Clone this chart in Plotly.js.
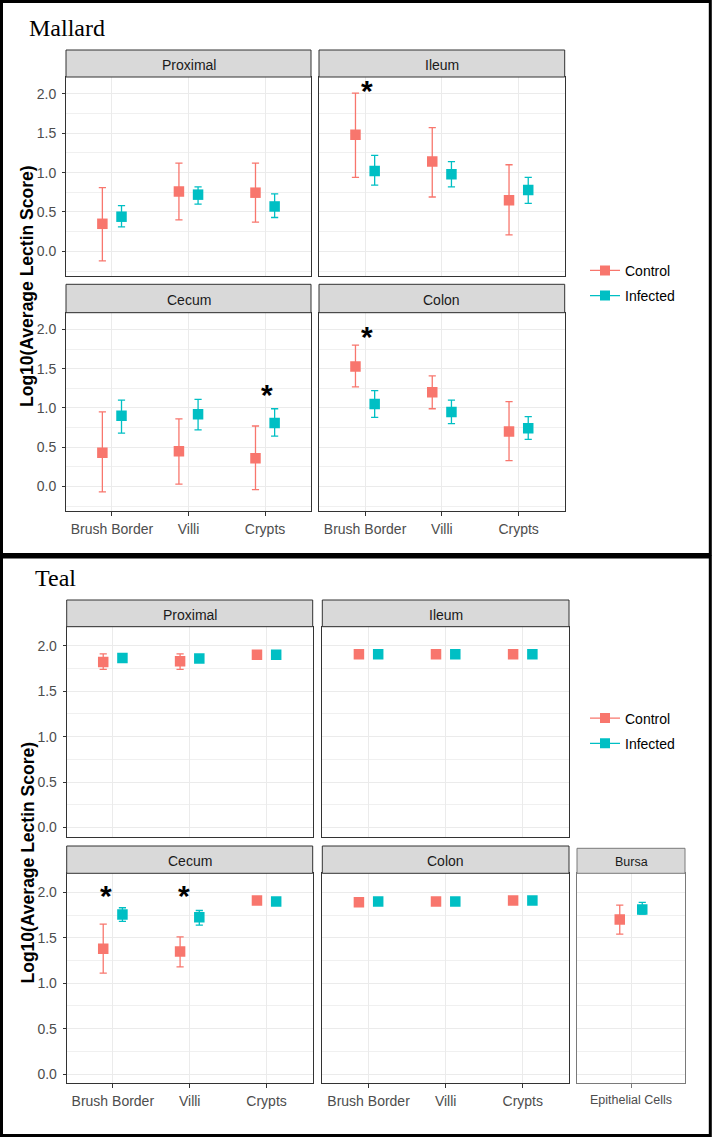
<!DOCTYPE html>
<html>
<head>
<meta charset="utf-8">
<script src="https://cdn.plot.ly/plotly-3.0.1.min.js"></script>
<style>
  html, body { margin: 0; padding: 0; background: #fff; }
  #chart { width: 712px; height: 1137px; }
</style>
</head>
<body>
<div id="chart"></div>
<script>
// Categories
const tissues = ["Brush Border", "Villi", "Crypts"];
const bursaTissues = ["Epithelial Cells"];
const groups = ["Control", "Infected"];
const mallardFacets = ["Proximal", "Ileum", "Cecum", "Colon"];
const tealFacets = ["Proximal", "Ileum", "Cecum", "Colon", "Bursa"];

// Mallard (one row per facet: Brush Border, Villi, Crypts)
const mallardCtrlMean = [[0.35, 0.76, 0.745], [1.48, 1.14, 0.65], [0.43, 0.45, 0.36], [1.53, 1.20, 0.70]];
const mallardCtrlLo   = [[-0.12, 0.40, 0.37], [0.94, 0.69, 0.21], [-0.07, 0.03, -0.04], [1.27, 0.99, 0.33]];
const mallardCtrlHi   = [[0.81, 1.12, 1.12], [2.01, 1.57, 1.10], [0.95, 0.86, 0.77], [1.80, 1.41, 1.08]];
const mallardInfMean  = [[0.44, 0.72, 0.57], [1.02, 0.98, 0.78], [0.90, 0.92, 0.81], [1.05, 0.95, 0.74]];
const mallardInfLo    = [[0.31, 0.60, 0.43], [0.84, 0.82, 0.61], [0.68, 0.72, 0.64], [0.88, 0.80, 0.60]];
const mallardInfHi    = [[0.58, 0.82, 0.73], [1.22, 1.14, 0.94], [1.10, 1.11, 0.99], [1.22, 1.10, 0.89]];

// Teal (last row = Bursa, one category)
const tealCtrlMean = [[1.82, 1.83, 1.90], [1.905, 1.905, 1.905], [1.38, 1.35, 1.91], [1.89, 1.90, 1.91], [1.70]];
const tealCtrlLo   = [[1.74, 1.74, 1.89], [1.90, 1.90, 1.90], [1.11, 1.18, 1.90], [1.88, 1.89, 1.90], [1.54]];
const tealCtrlHi   = [[1.91, 1.91, 1.91], [1.91, 1.91, 1.91], [1.65, 1.51, 1.92], [1.90, 1.91, 1.92], [1.86]];
const tealInfMean  = [[1.865, 1.86, 1.90], [1.905, 1.905, 1.905], [1.755, 1.725, 1.90], [1.90, 1.90, 1.91], [1.81]];
const tealInfLo    = [[1.85, 1.85, 1.89], [1.90, 1.90, 1.90], [1.68, 1.64, 1.89], [1.89, 1.89, 1.90], [1.76]];
const tealInfHi    = [[1.88, 1.87, 1.91], [1.91, 1.91, 1.91], [1.83, 1.80, 1.91], [1.91, 1.91, 1.92], [1.89]];

// significance stars: panel number, x position, y value
const sigPanel = [1, 2, 3, 6, 6];
const sigX = [1.02, 3.03, 1.02, 0.91, 1.93];
const sigY = [2.08, 1.21, 1.95, 2.0, 2.0];

const colors = ["#F8766D", "#00BFC4"];
const dodge = [-0.125, 0.125];
const FONT = "Liberation Sans, Arial, sans-serif";

// pixel -> paper
const W = 712, H = 1137;
const fx = (p) => p / W;
const fy = (p) => 1 - p / H;

// panel layout (pixels)
const panels = [
  { title: mallardFacets[0], x0: 66, x1: 311, st: 50, pt: 77, pb: 276, left: true, bottom: false, yr: [-0.313, 2.214] },
  { title: mallardFacets[1], x0: 319, x1: 564.7, st: 50, pt: 77, pb: 276, left: false, bottom: false, yr: [-0.313, 2.214] },
  { title: mallardFacets[2], x0: 66, x1: 311, st: 284.3, pt: 312.7, pb: 511, left: true, bottom: true, yr: [-0.313, 2.214] },
  { title: mallardFacets[3], x0: 319, x1: 564.7, st: 284.3, pt: 312.7, pb: 511, left: false, bottom: true, yr: [-0.313, 2.214] },
  { title: tealFacets[0], x0: 66.7, x1: 312.7, st: 600, pt: 626.7, pb: 836.7, left: true, bottom: false, yr: [-0.101, 2.209] },
  { title: tealFacets[1], x0: 322.3, x1: 569, st: 600, pt: 626.7, pb: 836.7, left: false, bottom: false, yr: [-0.101, 2.209] },
  { title: tealFacets[2], x0: 66.7, x1: 312.7, st: 846, pt: 873.3, pb: 1083.3, left: true, bottom: true, yr: [-0.101, 2.209] },
  { title: tealFacets[3], x0: 322.3, x1: 569, st: 846, pt: 873.3, pb: 1083.3, left: false, bottom: true, yr: [-0.101, 2.209] },
  { title: tealFacets[4], x0: 577, x1: 685, st: 848.3, pt: 873.3, pb: 1083.3, left: false, bottom: true, yr: [-0.101, 2.209], bursa: true },
];

// which data feeds each panel
const series = [];
mallardFacets.forEach((f, k) => series.push([
  [mallardCtrlMean[k], mallardCtrlLo[k], mallardCtrlHi[k]],
  [mallardInfMean[k], mallardInfLo[k], mallardInfHi[k]],
]));
tealFacets.forEach((f, k) => series.push([
  [tealCtrlMean[k], tealCtrlLo[k], tealCtrlHi[k]],
  [tealInfMean[k], tealInfLo[k], tealInfHi[k]],
]));

const data = [];
const layout = {
  width: W,
  height: H,
  margin: { l: 0, r: 0, t: 0, b: 0 },
  paper_bgcolor: "#fff",
  plot_bgcolor: "#fff",
  font: { family: FONT },
  shapes: [],
  annotations: [],
};

panels.forEach((p, i) => {
  const n = i + 1;
  const cats = p.bursa ? bursaTissues : tissues;
  const border = p.bursa ? "#7a7a7a" : "#333333";

  series[i].forEach((s, g) => {
    const [mean, lo, hi] = s;
    data.push({
      type: "scatter",
      mode: "markers",
      x: mean.map((_, j) => j + 1 + dodge[g]),
      y: mean,
      xaxis: "x" + n,
      yaxis: "y" + n,
      name: groups[g],
      showlegend: false,
      marker: { symbol: "square", size: 10.5, color: colors[g] },
      error_y: {
        type: "data",
        symmetric: false,
        array: hi.map((v, j) => v - mean[j]),
        arrayminus: lo.map((v, j) => mean[j] - v),
        color: colors[g],
        thickness: 1.3,
        width: 3.6,
      },
      hoverinfo: "skip",
    });
  });

  layout["xaxis" + n] = {
    domain: [fx(p.x0), fx(p.x1)],
    anchor: "y" + n,
    range: [0.4, cats.length + 0.6],
    tickvals: cats.map((_, j) => j + 1),
    ticktext: cats,
    showticklabels: p.bottom,
    ticks: p.bottom ? "outside" : "",
    ticklen: 4,
    tickcolor: border,
    ticklabelstandoff: 1,
    tickfont: { family: FONT, size: p.bursa ? 12.5 : 14, color: "#4D4D4D" },
    showgrid: true,
    gridcolor: "#EBEBEB",
    gridwidth: 1,
    zeroline: false,
    showline: true,
    linecolor: border,
    linewidth: 1,
    mirror: true,
    fixedrange: true,
  };
  layout["yaxis" + n] = {
    domain: [fy(p.pb), fy(p.pt)],
    anchor: "x" + n,
    range: p.yr,
    tick0: 0,
    dtick: 0.5,
    tickformat: ".1f",
    showticklabels: p.left,
    ticks: p.left ? "outside" : "",
    ticklen: 3,
    tickcolor: border,
    ticklabelstandoff: 3,
    tickfont: { family: FONT, size: 14, color: "#4D4D4D" },
    showgrid: true,
    gridcolor: "#EBEBEB",
    gridwidth: 1,
    minor: { tick0: 0, dtick: 0.25, showgrid: true, gridcolor: "#F0F0F0", gridwidth: 1 },
    zeroline: false,
    showline: true,
    linecolor: border,
    linewidth: 1,
    mirror: true,
    fixedrange: true,
  };

  // facet strip
  layout.shapes.push({
    type: "rect", xref: "paper", yref: "paper",
    x0: fx(p.x0), x1: fx(p.x1), y0: fy(p.pt), y1: fy(p.st),
    fillcolor: "#D9D9D9",
    line: { color: border, width: 1 },
  });
  layout.annotations.push({
    xref: "paper", yref: "paper",
    x: fx((p.x0 + p.x1) / 2), y: fy((p.st + p.pt) / 2 + 1.5),
    text: p.title, showarrow: false,
    xanchor: "center", yanchor: "middle",
    font: { family: FONT, size: p.bursa ? 12.5 : 14, color: "#1A1A1A" },
  });
});

// significance stars
sigPanel.forEach((pn, k) => {
  layout.annotations.push({
    xref: "x" + (pn + 1), yref: "y" + (pn + 1),
    x: sigX[k], y: sigY[k],
    text: "<b>*</b>", showarrow: false,
    xanchor: "center", yanchor: "middle",
    yshift: -3,
    font: { family: FONT, size: 30, color: "#000" },
  });
});

// y axis titles and block titles
[[286, "Mallard", 29, 37], [862.5, "Teal", 35, 587]].forEach(([ym, name, tx, ty]) => {
  layout.annotations.push({
    xref: "paper", yref: "paper",
    x: fx(27), y: fy(ym),
    text: "<b>Log10(Average Lectin Score)</b>",
    textangle: -90, showarrow: false,
    xanchor: "center", yanchor: "middle",
    font: { family: FONT, size: 17.5, color: "#000" },
  });
  layout.annotations.push({
    xref: "paper", yref: "paper",
    x: fx(tx - 2), y: fy(ty + 6),
    text: name, showarrow: false,
    xanchor: "left", yanchor: "bottom",
    font: { family: "Liberation Serif, Times New Roman, serif", size: 24, color: "#000" },
  });
});

// legend entries (one legend per block)
["legend", "legend2"].forEach((lg) => {
  groups.forEach((g, k) => {
    data.push({
      type: "scatter",
      mode: "lines+markers",
      x: [null], y: [null],
      xaxis: "x1", yaxis: "y1",
      name: g,
      legend: lg,
      legendgroup: lg + g,
      line: { color: colors[k], width: 1.3 },
      marker: { symbol: "square", size: 10, color: colors[k] },
      hoverinfo: "skip",
    });
  });
});

const legendBase = {
  xanchor: "left", yanchor: "middle",
  bgcolor: "rgba(0,0,0,0)",
  font: { family: FONT, size: 14, color: "#000" },
  traceorder: "grouped",
  tracegroupgap: 4,
  itemwidth: 30,
};
layout.legend = Object.assign({}, legendBase, { x: fx(585), y: fy(283.3) });
layout.legend2 = Object.assign({}, legendBase, { x: fx(585), y: fy(731) });

// black frames around the two blocks
layout.shapes.push(
  { type: "rect", xref: "paper", yref: "paper", x0: fx(1.5), x1: fx(710.3), y0: fy(554.5), y1: fy(1.5), line: { color: "#000", width: 3 } },
  { type: "rect", xref: "paper", yref: "paper", x0: fx(1.5), x1: fx(710.3), y0: fy(1135.5), y1: fy(557), line: { color: "#000", width: 3 } }
);

Plotly.newPlot("chart", data, layout, { displayModeBar: false, staticPlot: true });
</script>
</body>
</html>
